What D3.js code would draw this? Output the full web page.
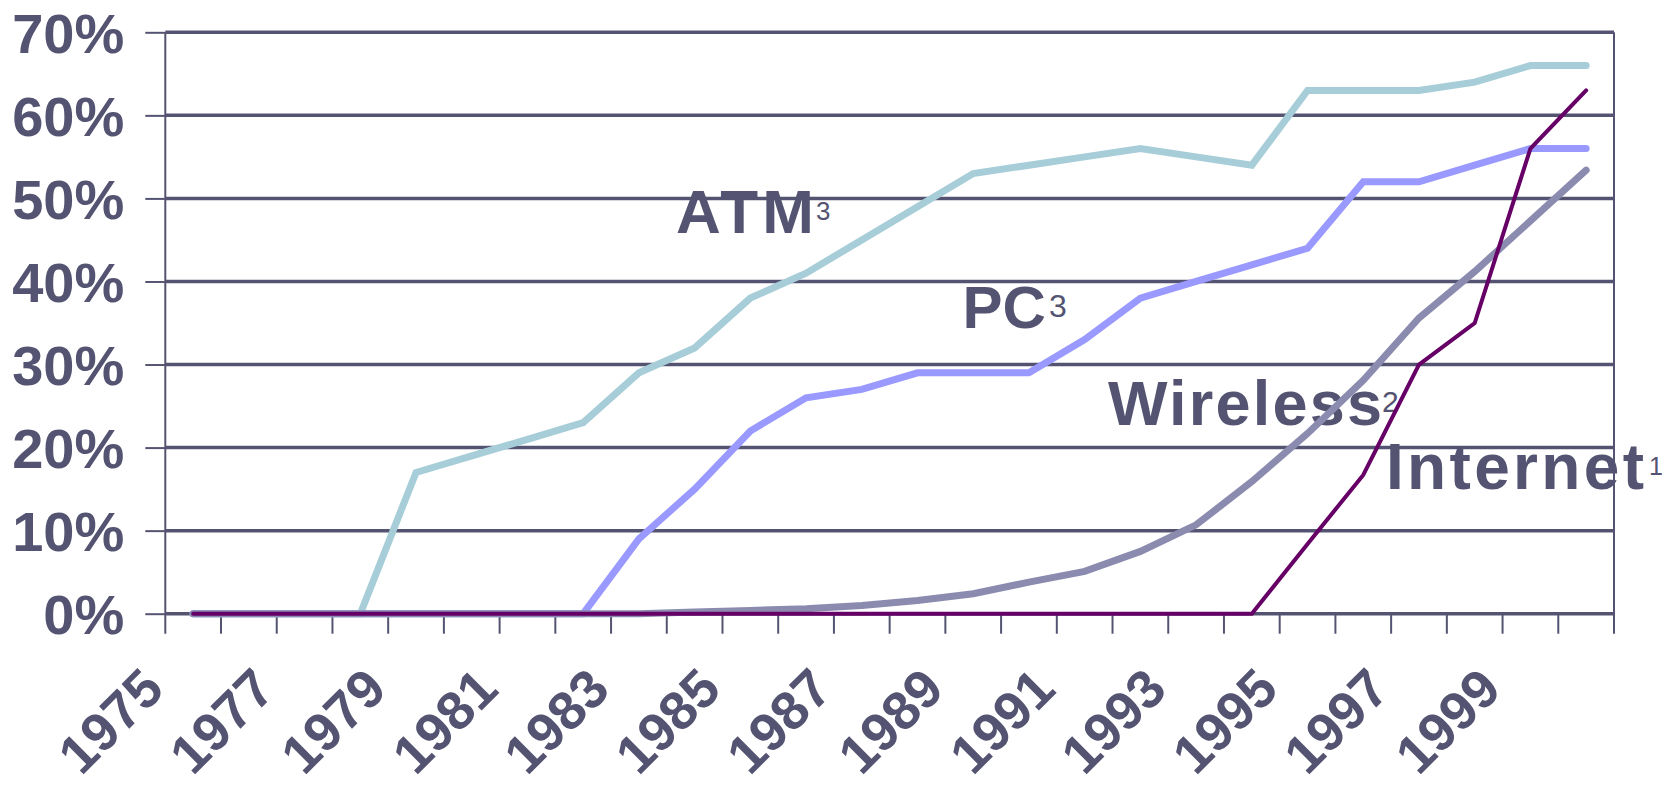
<!DOCTYPE html>
<html>
<head>
<meta charset="utf-8">
<script src="https://cdn.jsdelivr.net/npm/d3@7/dist/d3.min.js"></script>
<style>
  html, body { margin: 0; padding: 0; background: #ffffff; }
  svg { display: block; }
  text { font-family: "Liberation Sans", Arial, sans-serif; }
</style>
</head>
<body>
<svg id="chart" width="1673" height="786"></svg>
<script>
// Adoption share by year, 1975-2000
const years = d3.range(1975, 2001);
const yearLabels = [1975, 1977, 1979, 1981, 1983, 1985, 1987, 1989, 1991, 1993, 1995, 1997, 1999];
const yTicks = [0, 0.1, 0.2, 0.3, 0.4, 0.5, 0.6, 0.7];

const atm = [0, 0, 0, 0, 17, 19, 21, 23, 29, 32, 38, 41, 45, 49, 53, 54, 55, 56, 55, 54, 63, 63, 63, 64, 66, 66];
const pc = [0, 0, 0, 0, 0, 0, 0, 0, 9, 15, 22, 26, 27, 29, 29, 29, 33, 38, 40, 42, 44, 52, 52, 54, 56, 56];
const wireless = [0, 0, 0, 0, 0, 0, 0, 0, 0, 0.2, 0.4, 0.6, 1.0, 1.6, 2.4, 3.8, 5.1, 7.5, 10.7, 15.9, 21.7, 28.1, 35.6, 41.2, 47.3, 53.4];
const internet = [0, 0, 0, 0, 0, 0, 0, 0, 0, 0, 0, 0, 0, 0, 0, 0, 0, 0, 0, 0, 8.4, 16.7, 30, 35, 56, 63];

const seriesNames = ["ATM", "PC", "Wireless", "Internet"];
const seriesNotes = ["3", "3", "2", "1"];

const ink = "#545472";
const svg = d3.select("#chart");

const plot = { left: 165.3, right: 1614, top: 32.3, bottom: 613.7 };

const x = d3.scaleBand().domain(years).range([plot.left, plot.right]).paddingInner(0).paddingOuter(0);
const y = d3.scaleLinear().domain([0, 0.7]).range([plot.bottom, plot.top]);
const cx = yr => x(yr) + x.bandwidth() / 2;

// horizontal gridlines (including the 0% baseline)
svg.append("g")
  .selectAll("line")
  .data(yTicks)
  .join("line")
  .attr("x1", plot.left).attr("x2", plot.right)
  .attr("y1", d => y(d)).attr("y2", d => y(d))
  .attr("stroke", ink).attr("stroke-width", 3.5);

// y axis with percent labels
const yAxis = d3.axisLeft(y).tickValues(yTicks).tickFormat(d3.format(".0%")).tickSize(20).tickPadding(21);
const yg = svg.append("g").attr("transform", `translate(${plot.left},0)`).call(yAxis);
yg.select(".domain").remove();
yg.selectAll(".tick line").attr("stroke", ink).attr("stroke-width", 2);
yg.selectAll(".tick text")
  .attr("fill", ink)
  .attr("font-size", 56)
  .attr("font-weight", "bold")
  .attr("font-family", "Liberation Sans, Arial, sans-serif")
  .attr("dy", "0.36em");

// vertical frame lines and category ticks between years
const tickX = years.map(yr => x(yr)).concat([x.range()[1]]);
svg.append("g")
  .selectAll("line")
  .data(tickX)
  .join("line")
  .attr("x1", d => d).attr("x2", d => d)
  .attr("y1", (d, i) => (i === 0 || i === tickX.length - 1) ? plot.top : plot.bottom)
  .attr("y2", plot.bottom + 20)
  .attr("stroke", ink).attr("stroke-width", 2);

// rotated year labels
svg.append("g")
  .selectAll("text")
  .data(yearLabels)
  .join("text")
  .attr("transform", d => `translate(${cx(d) - 27},${plot.bottom + 78}) rotate(-45)`)
  .attr("text-anchor", "end")
  .attr("font-size", 54)
  .attr("font-weight", "bold")
  .attr("fill", ink)
  .text(d => d);

// series name labels with footnote markers
const labelSpecs = [
  { name: seriesNames[0], note: seriesNotes[0], x: 676, y: 232.7, size: 62, len: 138, nx: 816, ny: 220, nsize: 26 },
  { name: seriesNames[1], note: seriesNotes[1], x: 962.5, y: 328.3, size: 60, len: null, nx: 1049, ny: 316.7, nsize: 32 },
  { name: seriesNames[2], note: seriesNotes[2], x: 1108, y: 425, size: 63, len: 274, nx: 1382, ny: 411.7, nsize: 30 },
  { name: seriesNames[3], note: seriesNotes[3], x: 1386, y: 489.3, size: 64, len: 258, nx: 1649, ny: 475, nsize: 25 }
];
const lg = svg.append("g");
labelSpecs.forEach(s => {
  const t = lg.append("text")
    .attr("x", s.x).attr("y", s.y)
    .attr("font-size", s.size).attr("font-weight", "bold")
    .attr("fill", ink)
    .text(s.name);
  if (s.len) t.attr("textLength", s.len).attr("lengthAdjust", "spacing");
  lg.append("text")
    .attr("x", s.nx).attr("y", s.ny)
    .attr("font-size", s.nsize)
    .attr("fill", ink)
    .text(s.note);
});

// series lines
const series = [
  { values: atm, color: "#a6cdd8", width: 7 },
  { values: pc, color: "#9999ff", width: 7 },
  { values: wireless, color: "#8b8bb0", width: 7 },
  { values: internet, color: "#660066", width: 4 }
];
const line = d3.line().x((d, i) => cx(years[i])).y(d => y(d / 100));
svg.append("g")
  .selectAll("path")
  .data(series)
  .join("path")
  .attr("d", d => line(d.values))
  .attr("fill", "none")
  .attr("stroke", d => d.color)
  .attr("stroke-width", d => d.width)
  .attr("stroke-linecap", "round")
  .attr("stroke-linejoin", "miter");
</script>
</body>
</html>
